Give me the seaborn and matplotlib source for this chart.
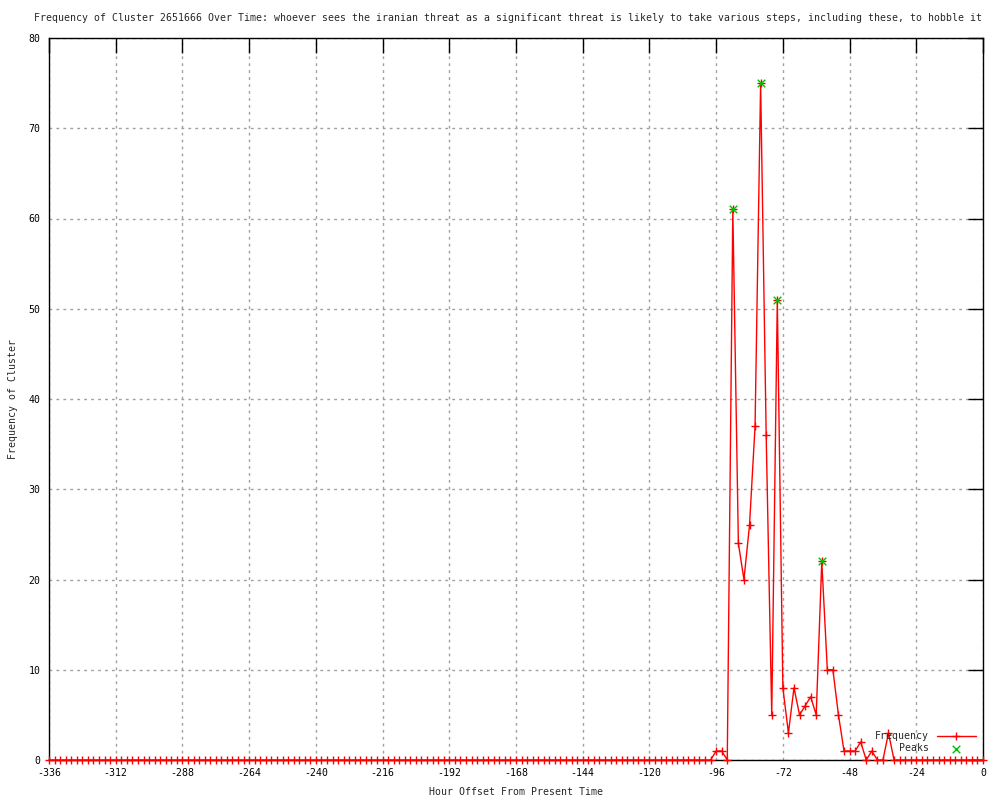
import numpy as np
import pandas as pd
import seaborn as sns
import matplotlib.pyplot as plt

# hour offsets (every 2 hours) and cluster frequency
hours = list(range(-336, 1, 2))
freq = [
    0, 0, 0, 0, 0, 0, 0, 0, 0, 0, 0, 0, 0, 0, 0, 0, 0, 0, 0, 0,
    0, 0, 0, 0, 0, 0, 0, 0, 0, 0, 0, 0, 0, 0, 0, 0, 0, 0, 0, 0,
    0, 0, 0, 0, 0, 0, 0, 0, 0, 0, 0, 0, 0, 0, 0, 0, 0, 0, 0, 0,
    0, 0, 0, 0, 0, 0, 0, 0, 0, 0, 0, 0, 0, 0, 0, 0, 0, 0, 0, 0,
    0, 0, 0, 0, 0, 0, 0, 0, 0, 0, 0, 0, 0, 0, 0, 0, 0, 0, 0, 0,
    0, 0, 0, 0, 0, 0, 0, 0, 0, 0, 0, 0, 0, 0, 0, 0, 0, 0, 0, 0,
    # -96 .. -34
    1, 1, 0, 61, 24, 20, 26, 37, 75, 36, 5, 51, 8, 3, 8, 5,
    6, 7, 5, 22, 10, 10, 5, 1, 1, 1, 2, 0, 1, 0, 0, 3,
    # -32 .. 0
    0, 0, 0, 0, 0, 0, 0, 0, 0, 0, 0, 0, 0, 0, 0, 0, 0,
]
peak_hours = [-90, -80, -74, -58]
peak_values = [61, 75, 51, 22]

xticks = list(range(-336, 1, 24))
yticks = list(range(0, 81, 10))

title = ("Frequency of Cluster 2651666 Over Time: whoever sees the iranian threat as a "
         "significant threat is likely to take various steps, including these, to hobble it")

df = pd.DataFrame({'hour': hours, 'freq': freq})
peaks = pd.DataFrame({'hour': peak_hours, 'freq': peak_values})

sns.set_style('white')
plt.rcParams['font.family'] = ['DejaVu Sans Mono', 'DejaVu Sans']
plt.rcParams['axes.unicode_minus'] = False
fs = 7.1

fig = plt.figure(figsize=(10, 8), dpi=100)
ax = fig.add_axes([0.049, 0.05, 0.934, 0.9025])

sns.lineplot(data=df, x='hour', y='freq', ax=ax, color='red', linewidth=1,
             marker='+', markersize=6, markeredgewidth=1, markeredgecolor='red',
             label='Frequency', clip_on=False, zorder=3)
sns.scatterplot(data=peaks, x='hour', y='freq', ax=ax, color='#00c000',
                marker='x', s=30, linewidth=1, label='Peaks', zorder=4,
                clip_on=False)

ax.set_xlim(-336, 0)
ax.set_ylim(0, 80)
ax.set_xticks(xticks)
ax.set_yticks(yticks)
ax.tick_params(direction='in', length=11, width=1, top=True, right=True,
               labelsize=fs, pad=6, colors='black')
ax.grid(True, color='#a0a0a0', linestyle=(0, (2, 3)), linewidth=1)
for s in ax.spines.values():
    s.set_color('black')
    s.set_linewidth(1)

ax.set_xlabel('Hour Offset From Present Time', fontsize=fs, labelpad=6)
ax.set_ylabel('Frequency of Cluster', fontsize=fs, labelpad=8)
fig.text(0.508, 0.978, title, ha='center', va='center', fontsize=fs)

ax.legend(loc='lower right', frameon=False, markerfirst=False, fontsize=fs,
          handlelength=4, borderaxespad=0.3, labelspacing=0.2)

fig.savefig('out.png', dpi=100)
